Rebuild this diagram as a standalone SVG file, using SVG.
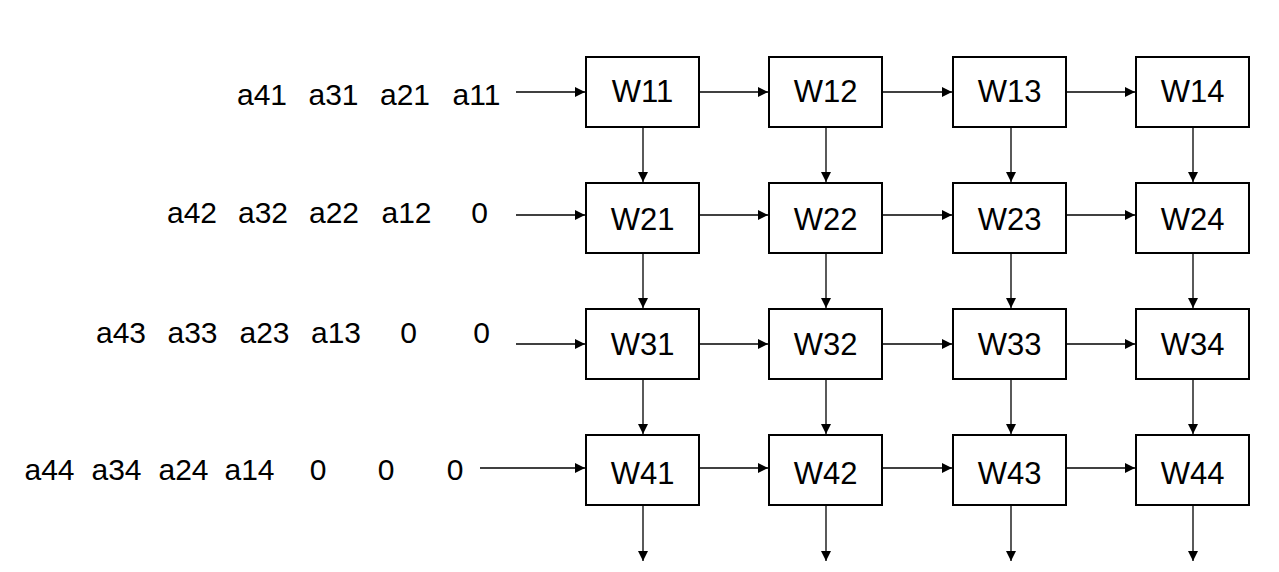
<svg xmlns="http://www.w3.org/2000/svg" width="1279" height="572" viewBox="0 0 1279 572">
<defs>
<style>
.box{fill:#fff;stroke:#000;stroke-width:2}
.w{font-family:"Liberation Sans","Noto Sans CJK SC",sans-serif;font-size:31px;text-anchor:middle;fill:#000}
.lbl{font-family:"Liberation Sans","Noto Sans CJK SC",sans-serif;font-size:30px;text-anchor:middle;fill:#000}
.c line{stroke:#000;stroke-width:1.3;marker-end:url(#ah)}
</style>
<marker id="ah" markerUnits="userSpaceOnUse" markerWidth="11" markerHeight="11" refX="10" refY="5" orient="auto">
<path d="M0,0 L10,5 L0,10 z" fill="#000"/>
</marker>
</defs>
<rect width="1279" height="572" fill="#fff"/>

<g id="inputs">
<text class="lbl" x="262" y="105">a41</text><text class="lbl" x="333.5" y="105">a31</text><text class="lbl" x="405" y="105">a21</text><text class="lbl" x="476.5" y="105">a11</text>
<text class="lbl" x="192" y="223">a42</text><text class="lbl" x="263" y="223">a32</text><text class="lbl" x="334" y="223">a22</text><text class="lbl" x="406.5" y="223">a12</text><text class="lbl" x="479.5" y="223">0</text>
<text class="lbl" x="121" y="343">a43</text><text class="lbl" x="192.5" y="343">a33</text><text class="lbl" x="264.5" y="343">a23</text><text class="lbl" x="336" y="343">a13</text><text class="lbl" x="408.5" y="343">0</text><text class="lbl" x="481.5" y="343">0</text>
<text class="lbl" x="49.5" y="480">a44</text><text class="lbl" x="116.5" y="480">a34</text><text class="lbl" x="183.5" y="480">a24</text><text class="lbl" x="249.5" y="480">a14</text><text class="lbl" x="318" y="480">0</text><text class="lbl" x="386" y="480">0</text><text class="lbl" x="455" y="480">0</text>
</g>

<g id="W11"><rect class="box" x="586" y="57" width="113" height="70"/><text class="w" x="642.5" y="102">W11</text></g>
<g id="W12"><rect class="box" x="769" y="57" width="113" height="70"/><text class="w" x="825.5" y="102">W12</text></g>
<g id="W13"><rect class="box" x="953" y="57" width="113" height="70"/><text class="w" x="1009.5" y="102">W13</text></g>
<g id="W14"><rect class="box" x="1136" y="57" width="113" height="70"/><text class="w" x="1192.5" y="102">W14</text></g>

<g id="W21"><rect class="box" x="586" y="183" width="113" height="70"/><text class="w" x="642.5" y="230">W21</text></g>
<g id="W22"><rect class="box" x="769" y="183" width="113" height="70"/><text class="w" x="825.5" y="230">W22</text></g>
<g id="W23"><rect class="box" x="953" y="183" width="113" height="70"/><text class="w" x="1009.5" y="230">W23</text></g>
<g id="W24"><rect class="box" x="1136" y="183" width="113" height="70"/><text class="w" x="1192.5" y="230">W24</text></g>

<g id="W31"><rect class="box" x="586" y="309" width="113" height="70"/><text class="w" x="642.5" y="355">W31</text></g>
<g id="W32"><rect class="box" x="769" y="309" width="113" height="70"/><text class="w" x="825.5" y="355">W32</text></g>
<g id="W33"><rect class="box" x="953" y="309" width="113" height="70"/><text class="w" x="1009.5" y="355">W33</text></g>
<g id="W34"><rect class="box" x="1136" y="309" width="113" height="70"/><text class="w" x="1192.5" y="355">W34</text></g>

<g id="W41"><rect class="box" x="586" y="435" width="113" height="70"/><text class="w" x="642.5" y="484">W41</text></g>
<g id="W42"><rect class="box" x="769" y="435" width="113" height="70"/><text class="w" x="825.5" y="484">W42</text></g>
<g id="W43"><rect class="box" x="953" y="435" width="113" height="70"/><text class="w" x="1009.5" y="484">W43</text></g>
<g id="W44"><rect class="box" x="1136" y="435" width="113" height="70"/><text class="w" x="1192.5" y="484">W44</text></g>

<g id="connectors" class="c">
<line x1="516" y1="92" x2="585" y2="92"/><line x1="699" y1="92" x2="768" y2="92"/><line x1="882" y1="92" x2="952" y2="92"/><line x1="1066" y1="92" x2="1135" y2="92"/>
<line x1="516" y1="215" x2="585" y2="215"/><line x1="699" y1="215" x2="768" y2="215"/><line x1="882" y1="215" x2="952" y2="215"/><line x1="1066" y1="215" x2="1135" y2="215"/>
<line x1="516" y1="344" x2="585" y2="344"/><line x1="699" y1="344" x2="768" y2="344"/><line x1="882" y1="344" x2="952" y2="344"/><line x1="1066" y1="344" x2="1135" y2="344"/>
<line x1="480" y1="468" x2="585" y2="468"/><line x1="699" y1="468" x2="768" y2="468"/><line x1="882" y1="468" x2="952" y2="468"/><line x1="1066" y1="468" x2="1135" y2="468"/>
<line x1="643" y1="127" x2="643" y2="182"/><line x1="826" y1="127" x2="826" y2="182"/><line x1="1011" y1="127" x2="1011" y2="182"/><line x1="1193" y1="127" x2="1193" y2="182"/>
<line x1="643" y1="253" x2="643" y2="308"/><line x1="826" y1="253" x2="826" y2="308"/><line x1="1011" y1="253" x2="1011" y2="308"/><line x1="1193" y1="253" x2="1193" y2="308"/>
<line x1="643" y1="379" x2="643" y2="434"/><line x1="826" y1="379" x2="826" y2="434"/><line x1="1011" y1="379" x2="1011" y2="434"/><line x1="1193" y1="379" x2="1193" y2="434"/>
<line x1="643" y1="505" x2="643" y2="561"/><line x1="826" y1="505" x2="826" y2="561"/><line x1="1011" y1="505" x2="1011" y2="561"/><line x1="1193" y1="505" x2="1193" y2="561"/>
</g>
</svg>
